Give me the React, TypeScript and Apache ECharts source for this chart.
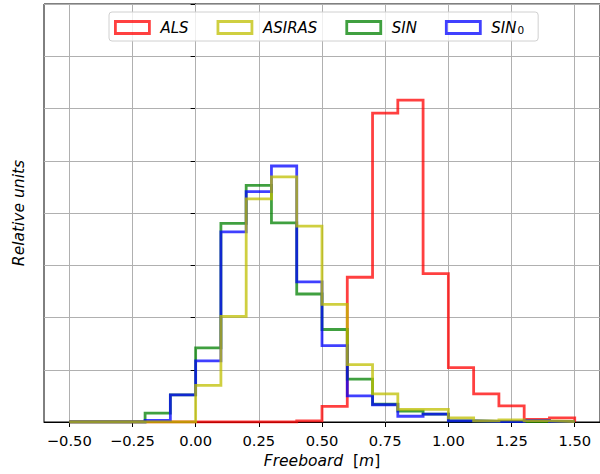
import React, { useEffect, useRef } from "react";
import * as echarts from "echarts";

const binEdges = [-0.5, -0.4, -0.3, -0.2, -0.1, 0.0, 0.1, 0.2, 0.3, 0.4, 0.5, 0.6, 0.7, 0.8, 0.9, 1.0, 1.1, 1.2, 1.3, 1.4, 1.5];

const alsValues = [0, 0, 0, 0, 0, 0, 0, 0, 0, 0.02, 0.3, 2.77, 5.91, 6.16, 2.84, 1.04, 0.54, 0.31, 0.05, 0.08];
const asirasValues = [0, 0, 0, 0, 0, 0.7, 2.02, 4.27, 4.69, 3.75, 2.25, 1.1, 0.54, 0.24, 0.24, 0.08, 0.02, 0.04, 0.02, 0.01];
const sinValues = [0, 0, 0, 0.17, 0.52, 1.42, 3.8, 4.53, 3.81, 2.45, 1.77, 0.82, 0.34, 0.21, 0.15, 0.02, 0.01, 0.01, 0.01, 0.01];
const sin0Values = [0, 0, 0, 0.03, 0.52, 1.17, 3.64, 4.41, 4.9, 2.68, 1.46, 0.5, 0.33, 0.11, 0.15, 0.02, 0.01, 0.01, 0.03, 0.01];

const xTicks = [-0.5, -0.25, 0, 0.25, 0.5, 0.75, 1.0, 1.25, 1.5];

const seriesNames = ["ALS", "ASIRAS", "SIN", "SIN0"];
const colors: Record<string, string> = {
  ALS: "rgba(255,0,0,0.75)",
  ASIRAS: "rgba(191,191,0,0.75)",
  SIN: "rgba(0,128,0,0.75)",
  SIN0: "rgba(0,0,255,0.75)",
};

function stepPoints(vals: number[]): number[][] {
  const pts: number[][] = [[binEdges[0], 0]];
  for (let i = 0; i < vals.length; i++) {
    pts.push([binEdges[i], vals[i]]);
    pts.push([binEdges[i + 1], vals[i]]);
  }
  pts.push([binEdges[binEdges.length - 1], 0]);
  return pts;
}

const FONT = "DejaVu Sans";

export default function App() {
  const ref = useRef<HTMLDivElement>(null);
  useEffect(() => {
    if (!ref.current) return;
    const chart = echarts.init(ref.current, null, { renderer: "svg" });
    const mk = (name: string, vals: number[], z: number) => ({
      name,
      type: "line",
      data: stepPoints(vals),
      symbol: "none",
      showSymbol: false,
      z,
      itemStyle: { color: colors[name] },
      lineStyle: { color: colors[name], width: 2.8, join: "miter", cap: "butt" },
      clip: true,
    });
    chart.setOption({
      animation: false,
      grid: {
        left: 44,
        right: -6,
        top: 4,
        bottom: 52,
        show: true,
        borderColor: "#000",
        borderWidth: 1,
        backgroundColor: "transparent",
      },
      legend: {
        left: 109,
        top: 12,
        padding: [6, 14, 6, 5],
        itemGap: 28,
        itemWidth: 34,
        itemHeight: 12,
        backgroundColor: "rgba(255,255,255,0.8)",
        borderColor: "#d0d0d0",
        borderWidth: 1,
        borderRadius: 3,
        data: seriesNames.map((n) => ({
          name: n,
          icon: "rect",
          itemStyle: { color: "rgba(255,255,255,0)", borderColor: colors[n], borderWidth: 2.8 },
        })),
        formatter: (n: string) => (n === "SIN0" ? "{gap|}SIN{sub|0}" : "{gap|}" + n),
        textStyle: {
          fontFamily: FONT,
          fontSize: 15,
          fontStyle: "italic",
          color: "#000",
          rich: {
            gap: { width: 6 },
            sub: { fontFamily: FONT, fontSize: 10.5, fontStyle: "normal", verticalAlign: "bottom", lineHeight: 10, padding: [6, 0, 0, 1], color: "#000" },
          },
        },
      },
      xAxis: {
        type: "value",
        min: -0.6,
        max: 1.6,
        name: "{i|Freeboard}  [{i|m}]",
        nameLocation: "middle",
        nameGap: 29,
        nameTextStyle: {
          fontFamily: FONT,
          fontSize: 15.5,
          color: "#000",
          rich: { i: { fontFamily: FONT, fontSize: 15.5, fontStyle: "italic", color: "#000" } },
        },
        axisLine: { show: true, onZero: false, lineStyle: { color: "#000", width: 1 } },
        axisTick: { show: true, length: 5, inside: false, customValues: xTicks, lineStyle: { color: "#000", width: 1 } },
        axisLabel: {
          show: true,
          customValues: xTicks,
          margin: 11,
          fontFamily: FONT,
          fontSize: 14.7,
          color: "#000",
          formatter: (v: number) => (v < 0 ? "\u2212" + Math.abs(v).toFixed(2) : v.toFixed(2)),
        },
        splitLine: { show: false },
      },
      yAxis: {
        type: "value",
        min: 0,
        max: 8,
        interval: 1,
        name: "Relative units",
        nameLocation: "middle",
        nameGap: 17,
        nameTextStyle: { fontFamily: FONT, fontSize: 15.5, fontStyle: "italic", color: "#000" },
        axisLine: { show: true, lineStyle: { color: "#000", width: 1 } },
        axisTick: { show: true, length: 5, inside: false, lineStyle: { color: "#000", width: 1 } },
        axisLabel: { show: false },
        splitLine: { show: true, lineStyle: { color: "#b0b0b0", width: 1 } },
      },
      series: [
        {
          name: "grid",
          type: "line",
          data: [],
          z: 1,
          silent: true,
          markLine: {
            z: 1,
            silent: true,
            symbol: ["none", "none"],
            label: { show: false },
            lineStyle: { color: "#b0b0b0", type: "solid", width: 1 },
            emphasis: { disabled: true },
            data: xTicks.map((v) => ({ xAxis: v })),
          },
        },
        mk("ALS", alsValues, 2),
        mk("SIN", sinValues, 3),
        mk("SIN0", sin0Values, 4),
        mk("ASIRAS", asirasValues, 5),
      ],
    });
    return () => chart.dispose();
  }, []);
  return <div ref={ref} style={{ width: 600, height: 474, position: "absolute", left: 0, top: 0 }} />;
}
